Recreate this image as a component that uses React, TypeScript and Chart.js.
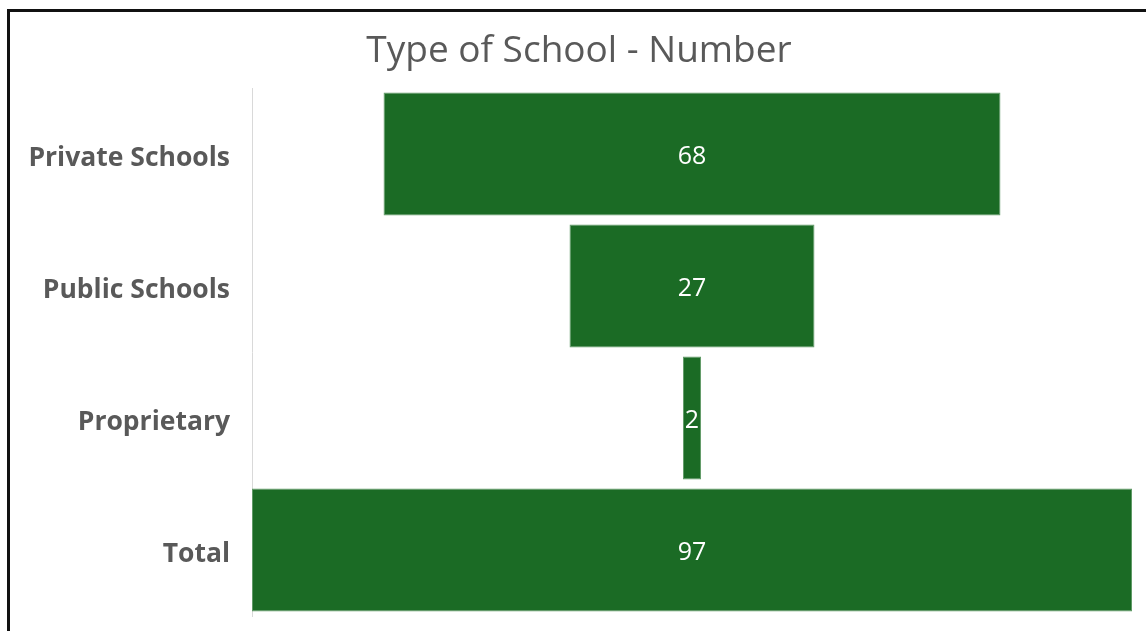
import React, { useEffect, useRef } from "react";
import { Chart, registerables } from "chart.js";

Chart.register(...registerables);

const categories = ["Private Schools", "Public Schools", "Proprietary", "Total"];
const values = [68, 27, 2, 97];
const chartTitle = "Type of School - Number";

const BAR_COLOR = "#1b6b25";
const TEXT_GRAY = "#595959";

export default function App() {
  const ref = useRef<HTMLCanvasElement | null>(null);

  useEffect(() => {
    const canvas = ref.current;
    if (!canvas) return;
    const maxV = Math.max(...values);
    const half = maxV / 2;

    const labelPlugin = {
      id: "funnelLabels",
      afterDatasetsDraw(chart: any) {
        const ctx = chart.ctx;
        const meta = chart.getDatasetMeta(0);
        ctx.save();
        ctx.fillStyle = "#ffffff";
        ctx.font = "25px 'Open Sans', sans-serif";
        ctx.textAlign = "center";
        ctx.textBaseline = "alphabetic";
        meta.data.forEach((bar: any, i: number) => {
          const cx = (bar.x + bar.base) / 2;
          ctx.fillText(String(values[i]), cx, bar.y + 10);
        });
        ctx.restore();
      },
      afterDraw(chart: any) {
        const ctx = chart.ctx;
        ctx.save();
        ctx.fillStyle = TEXT_GRAY;
        ctx.font = "37px 'Open Sans', sans-serif";
        ctx.textAlign = "center";
        ctx.textBaseline = "alphabetic";
        ctx.fillText(chartTitle, 579, 62);
        ctx.restore();
      },
    };

    const chart = new Chart(canvas, {
      type: "bar",
      data: {
        labels: categories,
        datasets: [
          {
            data: values.map((v) => [-v / 2, v / 2]) as any,
            backgroundColor: BAR_COLOR,
            borderColor: "#5f9a66",
            borderWidth: 1,
            borderSkipped: false,
            categoryPercentage: 0.93,
            barPercentage: 1,
          },
        ],
      },
      options: {
        indexAxis: "y",
        responsive: false,
        animation: false,
        layout: { padding: { left: 10, right: 14, top: 88, bottom: 15 } },
        plugins: {
          legend: { display: false },
          tooltip: { enabled: false },
          title: { display: false },
        },
        scales: {
          x: {
            min: -half,
            max: half,
            display: false,
          },
          y: {
            grid: { display: false, drawTicks: false },
            border: { display: true, color: "#d9d9d9", width: 1 },
            ticks: {
              color: TEXT_GRAY,
              font: { family: "'Open Sans', sans-serif", size: 26.5, weight: "bold" },
              padding: 22,
              labelOffset: 4,
            },
            afterFit(scale: any) {
              scale.width = 242;
              scale.paddingTop = 0;
              scale.paddingBottom = 0;
            },
          },
        },
      },
      plugins: [labelPlugin],
    });

    return () => chart.destroy();
  }, []);

  return (
    <div style={{ position: "fixed", left: 0, top: 0, width: 1146, height: 631, overflow: "hidden", background: "#fff" }}>
      <canvas ref={ref} width={1146} height={631} style={{ position: "absolute", left: 0, top: 0, width: 1146, height: 631 }} />
      <div
        style={{
          position: "absolute",
          left: 7,
          top: 9,
          width: 1146 - 10,
          height: 631 - 12,
          borderLeft: "3px solid #111",
          borderTop: "3px solid #111",
          pointerEvents: "none",
        }}
      />
    </div>
  );
}
